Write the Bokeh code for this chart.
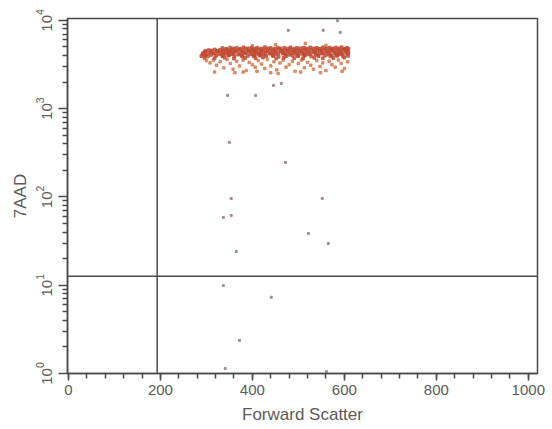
from bokeh.plotting import figure
from bokeh.models import Range1d, Span, FixedTicker, LogTickFormatter, SingleIntervalTicker
from bokeh.embed import file_html
from bokeh.resources import INLINE

# ---- data (Forward Scatter channel, 7AAD intensity) ----
gate_x = 193
gate_y = 12.6

x_ticks = [0, 200, 400, 600, 800, 1000]
y_ticks = [1, 10, 100, 1000, 10000]

band_pts = [
    # upper edge ~4900
    (335, 4850), (352, 4920), (366, 4880), (381, 4950), (398, 4870), (410, 4900), (427, 4960),
    (440, 4860), (455, 4910), (470, 4890), (483, 4940), (497, 4870), (512, 4900), (526, 4930),
    (540, 4880), (553, 4950), (568, 4900), (581, 4920), (594, 4960), (606, 4890),
    # ~4780
    (343, 4760), (359, 4800), (374, 4770), (390, 4820), (404, 4750), (419, 4790), (434, 4810),
    (448, 4740), (462, 4800), (477, 4780), (491, 4760), (505, 4820), (519, 4770), (533, 4800),
    (547, 4750), (561, 4810), (575, 4780), (588, 4820), (601, 4760),
    # ~4650
    (305, 4600), (318, 4680), (330, 4650), (344, 4700), (357, 4620), (372, 4660), (386, 4710),
    (401, 4630), (414, 4690), (429, 4640), (444, 4670), (458, 4700), (471, 4620), (486, 4680),
    (500, 4650), (515, 4710), (529, 4640), (542, 4690), (557, 4660), (571, 4700), (585, 4630),
    (598, 4680), (609, 4720),
    # ~4530
    (298, 4520), (311, 4550), (324, 4500), (337, 4540), (351, 4560), (365, 4510), (379, 4550),
    (394, 4530), (408, 4500), (422, 4560), (437, 4520), (451, 4540), (465, 4510), (479, 4560),
    (493, 4530), (508, 4500), (522, 4550), (536, 4520), (550, 4560), (564, 4500), (578, 4540),
    (592, 4520), (606, 4550),
    # ~4400
    (297, 4380), (311, 4420), (324, 4450), (338, 4360), (350, 4410), (363, 4440), (377, 4390),
    (392, 4430), (405, 4370), (419, 4460), (433, 4400), (447, 4350), (462, 4440), (476, 4410),
    (490, 4380), (504, 4450), (518, 4420), (533, 4370), (547, 4430), (561, 4400), (575, 4460),
    (589, 4390), (603, 4420),
    # ~4270
    (293, 4260), (306, 4290), (319, 4240), (332, 4280), (346, 4300), (359, 4250), (373, 4270),
    (386, 4310), (400, 4240), (414, 4280), (428, 4260), (441, 4300), (456, 4250), (470, 4290),
    (484, 4270), (498, 4240), (512, 4300), (526, 4260), (540, 4280), (554, 4250), (568, 4310),
    (582, 4270), (596, 4240), (609, 4290),
    # ~4150
    (292, 4150), (300, 4100), (315, 4200), (328, 4120), (342, 4180), (356, 4160), (369, 4090),
    (383, 4210), (396, 4130), (410, 4170), (424, 4110), (438, 4190), (451, 4140), (466, 4200),
    (480, 4080), (494, 4160), (508, 4180), (522, 4120), (537, 4150), (551, 4200), (565, 4100),
    (579, 4170), (592, 4140), (605, 4190),
    # ~4050
    (296, 4040), (310, 4060), (336, 4030), (350, 4070), (377, 4050), (404, 4020), (418, 4060),
    (445, 4040), (472, 4070), (500, 4030), (515, 4060), (543, 4050), (571, 4020), (586, 4070),
    # ~3950
    (289, 3950), (303, 3900), (321, 3980), (335, 3920), (348, 4000), (361, 3940), (378, 3890),
    (390, 3970), (403, 3910), (416, 3990), (430, 3930), (445, 3960), (457, 3880), (473, 3950),
    (487, 4010), (499, 3920), (513, 3980), (528, 3900), (544, 3940), (558, 3990), (570, 3910),
    (584, 3960), (597, 3930), (608, 3970),
    # ~3750
    (296, 3760), (318, 3720), (340, 3780), (360, 3700), (384, 3750), (407, 3730), (423, 3790),
    (452, 3710), (468, 3760), (491, 3740), (510, 3700), (535, 3770), (553, 3720), (576, 3750),
    (600, 3790),
]

lower_pts = [
    (300, 3500), (308, 3300), (315, 3550), (322, 3100), (330, 3400), (338, 2900), (345, 3600),
    (352, 3250), (358, 2800), (366, 3450), (372, 3050), (380, 3550), (387, 2700), (393, 3350),
    (400, 3150), (406, 2950), (413, 3500), (420, 3200), (427, 2850), (433, 3600), (440, 3050),
    (447, 3400), (453, 2750), (460, 3300), (467, 3550), (473, 2950), (480, 3150), (487, 3450),
    (493, 2650), (500, 3250), (507, 3550), (513, 2900), (520, 3350), (527, 3100), (533, 2800),
    (540, 3500), (547, 3000), (553, 3300), (560, 2700), (567, 3450), (573, 3150), (580, 2950),
    (587, 3550), (593, 3250), (600, 2850), (607, 3400), (318, 2600), (362, 2550), (410, 2650),
    (456, 2500), (505, 2600), (548, 2550), (595, 2650), (440, 2550), (380, 2600),
    (450, 5300), (400, 5150), (560, 5200), (515, 5490),
]

sparse_pts = [
    (478, 7710), (554, 7710), (591, 7310), (585, 9900),
    (346, 1413), (407, 1413), (446, 1834), (463, 1933),
    (350, 415), (472, 246), (354, 96), (552, 96), (337, 58.6), (354, 61.7),
    (522, 38.6), (565, 29.7), (365, 24.1), (337, 9.9), (441, 7.3), (372, 2.37),
    (341, 1.14), (561, 1.05),
]

band_x = [p[0] for p in band_pts]
band_y = [p[1] for p in band_pts]
lower_x = [p[0] for p in lower_pts]
lower_y = [p[1] for p in lower_pts]
sparse_x = [p[0] for p in sparse_pts]
sparse_y = [p[1] for p in sparse_pts]

FONT = "Liberation Sans"
TEXT = "#5a5a5a"
LINE = "#4a4a4a"

p = figure(width=552, height=429, y_axis_type="log",
           x_range=Range1d(-2, 1020), y_range=Range1d(1, 10500),
           output_backend="svg", toolbar_location=None,
           min_border_left=67, min_border_right=15, min_border_top=18, min_border_bottom=56)

p.grid.visible = False
p.outline_line_color = LINE
p.outline_line_width = 1.5
p.background_fill_color = "white"
p.border_fill_color = "white"

# points
p.scatter(lower_x, lower_y, marker="square", size=2.5, color="#d47a4e", alpha=0.8)
p.scatter(band_x, band_y, marker="square", size=2.8, color="#c04a32", alpha=0.8)
p.scatter(sparse_x, sparse_y, marker="square", size=2, color="#a08488", alpha=0.9)

# quadrant gate lines
p.add_layout(Span(location=gate_x, dimension="height", line_color=LINE, line_width=1.5))
p.add_layout(Span(location=gate_y, dimension="width", line_color=LINE, line_width=1.5))

# x axis
xa = p.xaxis[0]
xa.ticker = SingleIntervalTicker(interval=200, num_minor_ticks=5)
xa.axis_label = "Forward Scatter"
# y axis
ya = p.yaxis[0]
minor = [m * d for d in [1, 10, 100, 1000] for m in range(2, 10)]
ya.ticker = FixedTicker(ticks=y_ticks, minor_ticks=minor)
ya.formatter = LogTickFormatter()
ya.axis_label = "7AAD"
ya.major_label_orientation = "vertical"

for ax in (xa, ya):
    ax.axis_line_color = LINE
    ax.axis_line_width = 1.5
    ax.major_tick_line_color = LINE
    ax.minor_tick_line_color = LINE
    ax.major_tick_line_width = 1.5
    ax.minor_tick_line_width = 1.5
    ax.major_tick_in = 0
    ax.minor_tick_in = 0
    ax.major_label_text_font = FONT
    ax.major_label_text_color = TEXT
    ax.major_label_text_font_size = "15px"
    ax.axis_label_text_font = FONT
    ax.axis_label_text_color = TEXT
    ax.axis_label_text_font_size = "17px"
    ax.axis_label_text_font_style = "normal"

xa.major_tick_out = 7
xa.minor_tick_out = 5
xa.major_label_standoff = 4
xa.axis_label_standoff = 7
ya.major_tick_out = 9
ya.minor_tick_out = 5
ya.major_label_standoff = 7
ya.axis_label_standoff = 3

open("out.html", "w").write(file_html(p, INLINE))
